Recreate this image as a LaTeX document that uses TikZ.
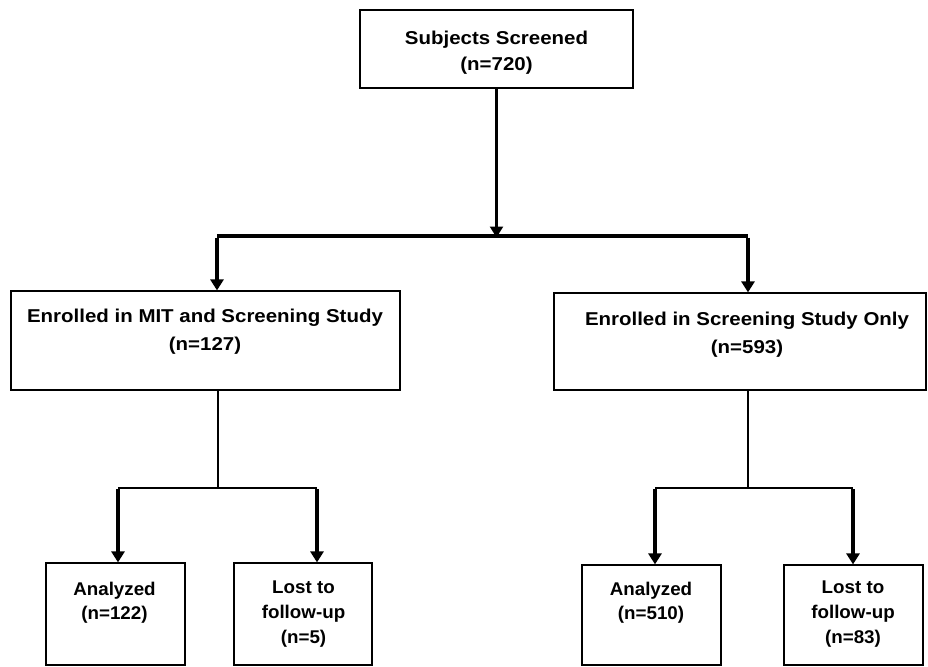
\documentclass[tikz,border=0pt]{standalone}
\usepackage{fontspec}
\setmainfont{Liberation Sans}
\newfontfamily\widefont[FakeStretch=1.1]{Liberation Sans}
\newfontfamily\smallfont[FakeStretch=1.02]{Liberation Sans}
\usetikzlibrary{arrows.meta}
\tikzset{
  box/.style={draw, line width=1.2pt, inner sep=0pt, fill=white},
  toptxt/.style={anchor=north, inner sep=0pt, align=center,
    font=\widefont\bfseries\fontsize{18.6}{26}\selectfont},
  bigtxt/.style={anchor=north, inner sep=0pt, align=center,
    font=\widefont\bfseries\fontsize{18.6}{28}\selectfont},
  antxt/.style={anchor=north, inner sep=0pt, align=center,
    font=\smallfont\bfseries\fontsize{18.4}{24}\selectfont},
  losttxt/.style={anchor=north, inner sep=0pt, align=center,
    font=\smallfont\bfseries\fontsize{18.4}{25}\selectfont},
  tip/.style={-{Triangle[width=13pt,length=11pt]}},
  thickline/.style={line width=3.6pt},
  hline/.style={line width=3.2pt},
  medline/.style={line width=2.4pt},
  thinline/.style={line width=1.3pt},
}
\begin{document}
\begin{tikzpicture}[x=1pt,y=-1pt]
\useasboundingbox (0,0) rectangle (928,666);
% boxes
\node[box, minimum width=273pt, minimum height=78pt] (top) at (496.5,49) {};
\node[box, minimum width=389pt, minimum height=99pt] (midl) at (205.5,340.5) {};
\node[box, minimum width=372pt, minimum height=97pt] (midr) at (740,341.5) {};
\node[box, minimum width=139pt, minimum height=102pt] (bl1) at (115.5,614) {};
\node[box, minimum width=138pt, minimum height=102pt] (bl2) at (303,614) {};
\node[box, minimum width=139pt, minimum height=100pt] (br1) at (651.5,615) {};
\node[box, minimum width=139pt, minimum height=100pt] (br2) at (853.5,615) {};
% texts
\node[toptxt] (topt) at (496.5,31) {Subjects Screened\\(n=720)};
\node[bigtxt] (midlt) at (205,309) {Enrolled in MIT and Screening Study\\(n=127)};
\node[bigtxt] (midrt) at (747,312) {Enrolled in Screening Study Only\\(n=593)};
\node[antxt] (bl1t) at (114.5,582) {Analyzed\\(n=122)};
\node[losttxt] (bl2t) at (303.5,581) {Lost to\\follow-up\\(n=5)};
\node[antxt] (br1t) at (651,582) {Analyzed\\(n=510)};
\node[losttxt] (br2t) at (853,581) {Lost to\\follow-up\\(n=83)};
% junctions
\coordinate (j0) at (496.5,236);
\coordinate (jl) at (217,236);
\coordinate (jr) at (748,236);
\coordinate (kl) at (218,488);
\coordinate (kl1) at (118,488);
\coordinate (kl2) at (317,488);
\coordinate (kr) at (748,488);
\coordinate (kr1) at (655,488);
\coordinate (kr2) at (853,488);
% connectors
\draw[medline, tip] (top.south -| j0) -- ([yshift=-1.5pt]j0);
\draw[hline] (jl) -- (jr);
\draw[thickline, tip] ([yshift=-1.6pt]jl) -- (jl |- midl.north);
\draw[thickline, tip] ([yshift=-1.6pt]jr) -- (jr |- midr.north);
\draw[thinline] (midl.south -| kl) -- (kl);
\draw[medline] (kl1) -- (kl2);
\draw[thickline, tip] ([yshift=-1.2pt]kl1) -- (kl1 |- bl1.north);
\draw[thickline, tip] ([yshift=-1.2pt]kl2) -- (kl2 |- bl2.north);
\draw[thinline] (midr.south -| kr) -- (kr);
\draw[medline] (kr1) -- (kr2);
\draw[thickline, tip] ([yshift=-1.2pt]kr1) -- (kr1 |- br1.north);
\draw[thickline, tip] ([yshift=-1.2pt]kr2) -- (kr2 |- br2.north);
\end{tikzpicture}
\end{document}
